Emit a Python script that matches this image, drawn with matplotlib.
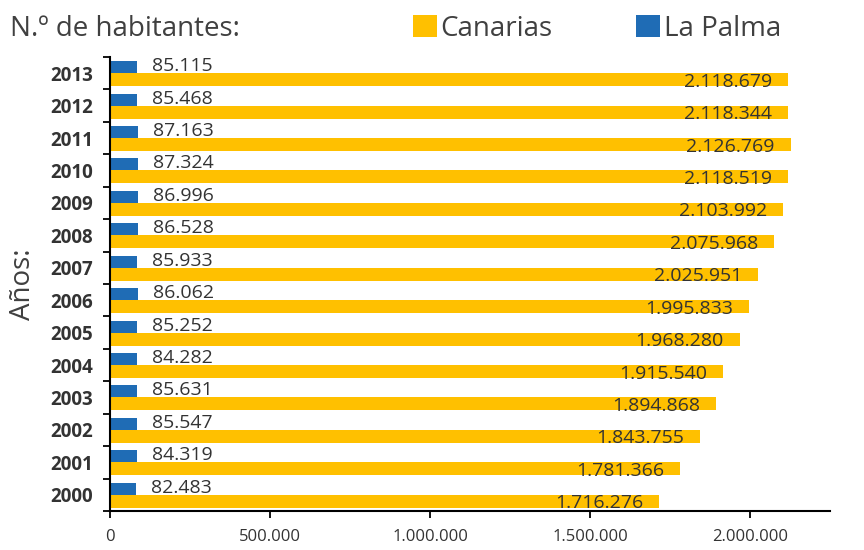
import matplotlib.pyplot as plt

years = [2000, 2001, 2002, 2003, 2004, 2005, 2006, 2007, 2008, 2009, 2010, 2011, 2012, 2013]
canarias = [1716276, 1781366, 1843755, 1894868, 1915540, 1968280, 1995833,
            2025951, 2075968, 2103992, 2118519, 2126769, 2118344, 2118679]
la_palma = [82483, 84319, 85547, 85631, 84282, 85252, 86062,
            85933, 86528, 86996, 87324, 87163, 85468, 85115]
x_ticks = [0, 500000, 1000000, 1500000, 2000000]

YELLOW = '#FFC000'
BLUE = '#1F6CB5'
TXT = '#333333'


def fmt(v):
    return f"{v:,}".replace(",", ".")


plt.rcParams['font.family'] = ['Open Sans', 'DejaVu Sans']

fig = plt.figure(figsize=(8.64, 5.5), dpi=100)
ax = fig.add_axes([0.1273, 0.0709, 0.8333, 0.8255])

pos = list(range(len(years)))
hb = ax.barh([p + 0.185 for p in pos], la_palma, height=0.37, color=BLUE, label='La Palma')
hy = ax.barh([p - 0.2 for p in pos], canarias, height=0.40, color=YELLOW, label='Canarias')

# value labels
for p, v in zip(pos, la_palma):
    ax.annotate(fmt(v), (v, p + 0.185), xytext=(15, 1), textcoords='offset pixels',
                ha='left', va='center', fontsize=14, color=TXT)
for p, v in zip(pos, canarias):
    ax.annotate(fmt(v), (v, p - 0.2), xytext=(-16, -2), textcoords='offset pixels',
                ha='right', va='center', fontsize=14, color=TXT)

ax.set_xlim(0, 2250000)
ax.set_ylim(-0.5, len(years) - 0.5)

# ticks between groups, year labels centred
ax.set_yticks([p - 0.5 for p in pos] + [len(years) - 0.5])
ax.set_yticklabels([])
ax.set_yticks(pos, minor=True)
ax.set_yticklabels([str(y) for y in years], minor=True, fontweight='bold', fontsize=13.5, color=TXT)
ax.tick_params(axis='y', which='minor', length=0, pad=12)
ax.tick_params(axis='y', which='major', length=5, width=1.3)

ax.set_xticks(x_ticks)
ax.set_xticklabels([fmt(t) for t in x_ticks], fontsize=12, color=TXT)
ax.tick_params(axis='x', length=5, width=1.3, pad=8)

ax.spines['top'].set_visible(False)
ax.spines['right'].set_visible(False)
ax.spines['left'].set_linewidth(1.5)
ax.spines['bottom'].set_linewidth(1.5)

ax.set_ylabel('Años:', fontsize=20, color='#404040', labelpad=10)
fig.text(0.012, 0.948, 'N.º de habitantes:', fontsize=20, color='#404040', va='center')

fig.legend(handles=[hy, hb], loc='center left', bbox_to_anchor=(0.449, 0.948), ncol=2,
           frameon=False, fontsize=20, handlelength=0.85, handleheight=0.85,
           handletextpad=0.15, columnspacing=3.0, labelcolor='#404040')

fig.savefig('out.png', dpi=100)
